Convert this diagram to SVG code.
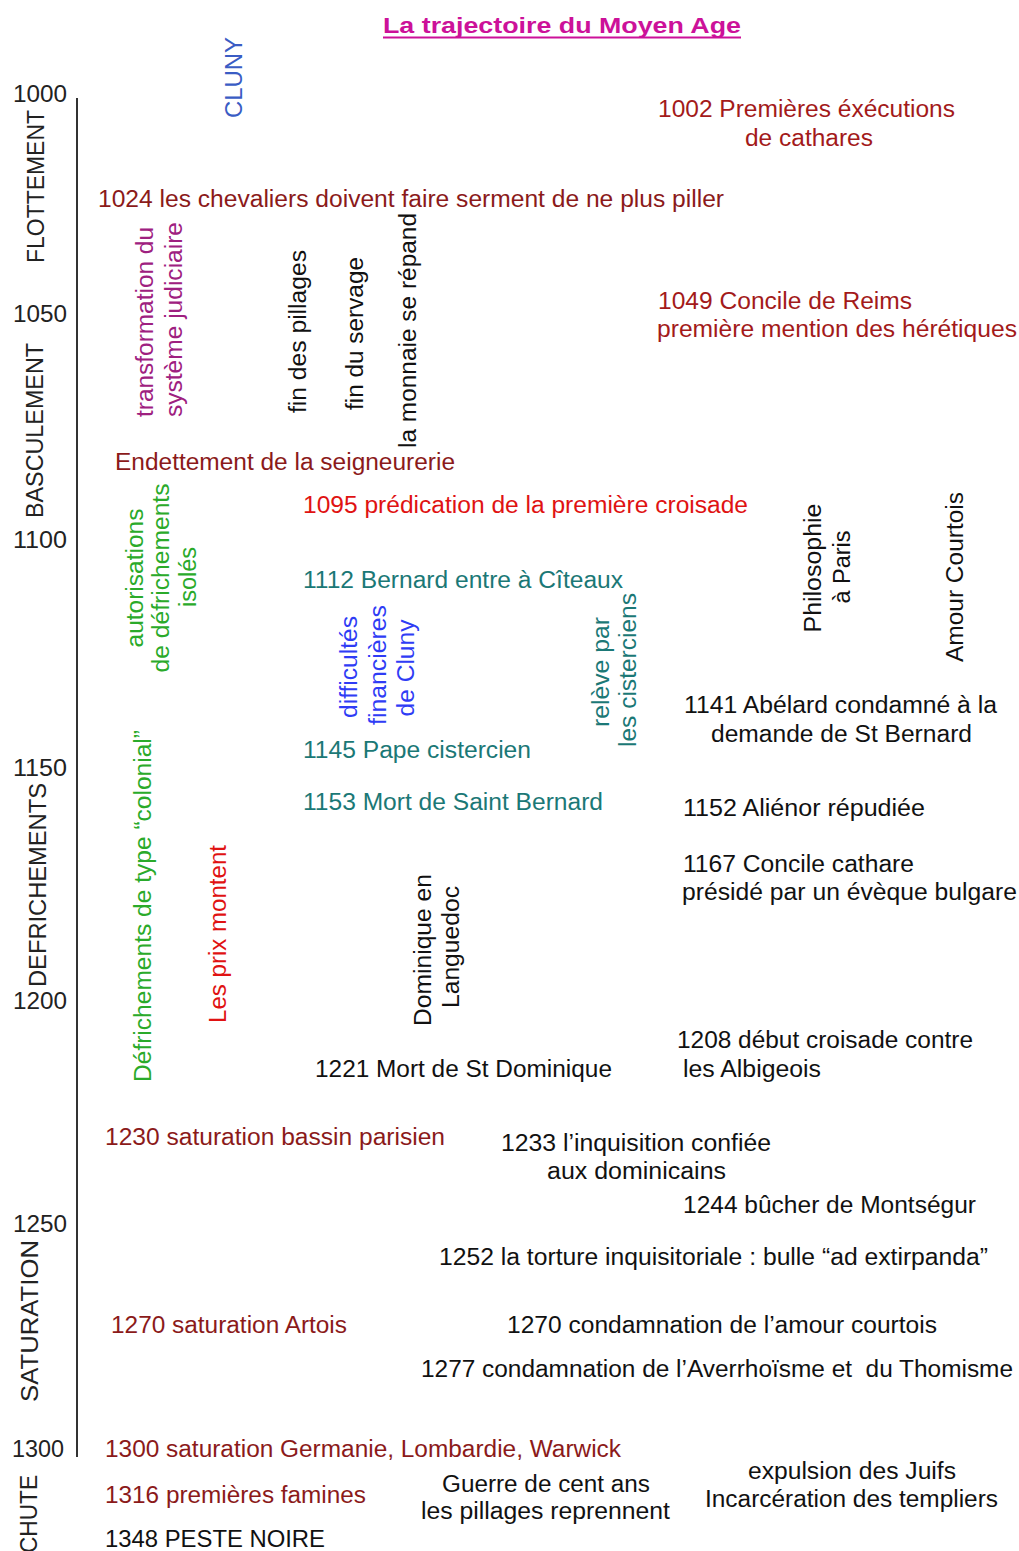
<svg xmlns="http://www.w3.org/2000/svg" width="1019" height="1551" viewBox="0 0 1019 1551">
<style>
text{font-family:"Liberation Sans",Arial,sans-serif;font-size:23px}
.k{fill:#111}
.m{fill:#8b1a1a}
.r2{fill:#a31a1a}
.r{fill:#e01212}
.t{fill:#1b7876}
.b{fill:#2f3cf5}
.cb{fill:#3a5cc4}
.g{fill:#2aaa2a}
.p{fill:#9e2080}
.ax{fill:#222}
.c{text-anchor:middle}
.title{fill:#cc1199;font-weight:bold;font-size:22px}
</style>
<rect width="1019" height="1551" fill="#fff"/>
<g id="title">
<text class="title" x="383" y="33" textLength="358" lengthAdjust="spacingAndGlyphs">La trajectoire du Moyen Age</text>
<line x1="383" y1="37.5" x2="741" y2="37.5" stroke="#cc1199" stroke-width="2"/>
</g>
<g id="connectors">
<line x1="77" y1="98" x2="77" y2="1457" stroke="#333" stroke-width="2"/>
</g>
<g id="axis-labels">
<text class="ax" x="13" y="102" textLength="54" lengthAdjust="spacingAndGlyphs">1000</text>
<text class="ax" x="13" y="322" textLength="54" lengthAdjust="spacingAndGlyphs">1050</text>
<text class="ax" x="13" y="548" textLength="54" lengthAdjust="spacingAndGlyphs">1100</text>
<text class="ax" x="13" y="776" textLength="54" lengthAdjust="spacingAndGlyphs">1150</text>
<text class="ax" x="13" y="1009" textLength="54" lengthAdjust="spacingAndGlyphs">1200</text>
<text class="ax" x="13" y="1232" textLength="54" lengthAdjust="spacingAndGlyphs">1250</text>
<text class="ax" x="12" y="1457" textLength="52" lengthAdjust="spacingAndGlyphs">1300</text>
</g>
<g id="periods">
<text class="ax" transform="translate(44 263) rotate(-90)" textLength="153" lengthAdjust="spacingAndGlyphs">FLOTTEMENT</text>
<text class="ax" transform="translate(43 518) rotate(-90)" textLength="175" lengthAdjust="spacingAndGlyphs">BASCULEMENT</text>
<text class="ax" transform="translate(46 987) rotate(-90)" textLength="204" lengthAdjust="spacingAndGlyphs">DEFRICHEMENTS</text>
<text class="ax" transform="translate(38 1402) rotate(-90)" textLength="162" lengthAdjust="spacingAndGlyphs">SATURATION</text>
<text class="ax" transform="translate(37 1553) rotate(-90)" textLength="78" lengthAdjust="spacingAndGlyphs">CHUTE</text>
</g>
<g id="cluny"><text class="cb" transform="translate(242 118) rotate(-90)" textLength="81" lengthAdjust="spacingAndGlyphs">CLUNY</text></g>
<g id="n1002">
<text class="r2" x="658" y="117" textLength="297" lengthAdjust="spacingAndGlyphs">1002 Premières éxécutions</text>
<text class="r2" x="745" y="146" textLength="128" lengthAdjust="spacingAndGlyphs">de cathares</text>
</g>
<g id="n1024"><text class="m" x="98" y="207" textLength="626" lengthAdjust="spacingAndGlyphs">1024 les chevaliers doivent faire serment de ne plus piller</text></g>
<g id="transformation">
<text class="p" transform="translate(153 417) rotate(-90)" textLength="190" lengthAdjust="spacingAndGlyphs">transformation du</text>
<text class="p" transform="translate(182 417) rotate(-90)" textLength="195" lengthAdjust="spacingAndGlyphs">système judiciaire</text>
</g>
<g id="pillages"><text class="k" transform="translate(306 413) rotate(-90)" textLength="163" lengthAdjust="spacingAndGlyphs">fin des pillages</text></g>
<g id="servage"><text class="k" transform="translate(363 410) rotate(-90)" textLength="153" lengthAdjust="spacingAndGlyphs">fin du servage</text></g>
<g id="monnaie"><text class="k" transform="translate(416 448) rotate(-90)" textLength="235" lengthAdjust="spacingAndGlyphs">la monnaie se répand</text></g>
<g id="n1049">
<text class="r2" x="658" y="309" textLength="254" lengthAdjust="spacingAndGlyphs">1049 Concile de Reims</text>
<text class="r2" x="657" y="337" textLength="360" lengthAdjust="spacingAndGlyphs">première mention des hérétiques</text>
</g>
<g id="endettement"><text class="m" x="115" y="470" textLength="340" lengthAdjust="spacingAndGlyphs">Endettement de la seigneurerie</text></g>
<g id="n1095"><text class="r" x="303" y="513" textLength="445" lengthAdjust="spacingAndGlyphs">1095 prédication de la première croisade</text></g>
<g id="autorisations">
<text class="g c" transform="translate(143 578) rotate(-90)" textLength="139" lengthAdjust="spacingAndGlyphs">autorisations</text>
<text class="g c" transform="translate(169 578) rotate(-90)" textLength="189" lengthAdjust="spacingAndGlyphs">de défrichements</text>
<text class="g c" transform="translate(196 577) rotate(-90)" textLength="60" lengthAdjust="spacingAndGlyphs">isolés</text>
</g>
<g id="n1112"><text class="t" x="303" y="588" textLength="320" lengthAdjust="spacingAndGlyphs">1112 Bernard entre à Cîteaux</text></g>
<g id="difficultes">
<text class="b c" transform="translate(357 667) rotate(-90)" textLength="102" lengthAdjust="spacingAndGlyphs">difficultés</text>
<text class="b c" transform="translate(386 665) rotate(-90)" textLength="120" lengthAdjust="spacingAndGlyphs">financières</text>
<text class="b c" transform="translate(414 668) rotate(-90)" textLength="97" lengthAdjust="spacingAndGlyphs">de Cluny</text>
</g>
<g id="releve">
<text class="t c" transform="translate(609 672) rotate(-90)" textLength="110" lengthAdjust="spacingAndGlyphs">relève par</text>
<text class="t c" transform="translate(636 670) rotate(-90)" textLength="154" lengthAdjust="spacingAndGlyphs">les cisterciens</text>
</g>
<g id="philosophie">
<text class="k c" transform="translate(821 568) rotate(-90)" textLength="129" lengthAdjust="spacingAndGlyphs">Philosophie</text>
<text class="k c" transform="translate(850 567) rotate(-90)" textLength="73" lengthAdjust="spacingAndGlyphs">à Paris</text>
</g>
<g id="amour"><text class="k" transform="translate(963 662) rotate(-90)" textLength="170" lengthAdjust="spacingAndGlyphs">Amour Courtois</text></g>
<g id="n1141">
<text class="k" x="684" y="713" textLength="313" lengthAdjust="spacingAndGlyphs">1141 Abélard condamné à la</text>
<text class="k" x="711" y="742" textLength="261" lengthAdjust="spacingAndGlyphs">demande de St Bernard</text>
</g>
<g id="n1145"><text class="t" x="303" y="758" textLength="228" lengthAdjust="spacingAndGlyphs">1145 Pape cistercien</text></g>
<g id="n1153"><text class="t" x="303" y="810" textLength="300" lengthAdjust="spacingAndGlyphs">1153 Mort de Saint Bernard</text></g>
<g id="n1152"><text class="k" x="683" y="816" textLength="242" lengthAdjust="spacingAndGlyphs">1152 Aliénor répudiée</text></g>
<g id="n1167">
<text class="k" x="683" y="872" textLength="231" lengthAdjust="spacingAndGlyphs">1167 Concile cathare</text>
<text class="k" x="682" y="900" textLength="335" lengthAdjust="spacingAndGlyphs">présidé par un évèque bulgare</text>
</g>
<g id="colonial"><text class="g" transform="translate(151 1082) rotate(-90)" textLength="352" lengthAdjust="spacingAndGlyphs">Défrichements de type “colonial”</text></g>
<g id="prix"><text class="r" transform="translate(226 1023) rotate(-90)" textLength="178" lengthAdjust="spacingAndGlyphs">Les prix montent</text></g>
<g id="dominique">
<text class="k c" transform="translate(431 950) rotate(-90)" textLength="152" lengthAdjust="spacingAndGlyphs">Dominique en</text>
<text class="k c" transform="translate(459 947) rotate(-90)" textLength="122" lengthAdjust="spacingAndGlyphs">Languedoc</text>
</g>
<g id="n1208">
<text class="k" x="677" y="1048" textLength="296" lengthAdjust="spacingAndGlyphs">1208 début croisade contre</text>
<text class="k" x="683" y="1077" textLength="138" lengthAdjust="spacingAndGlyphs">les Albigeois</text>
</g>
<g id="n1221"><text class="k" x="315" y="1077" textLength="297" lengthAdjust="spacingAndGlyphs">1221 Mort de St Dominique</text></g>
<g id="n1230"><text class="m" x="105" y="1145" textLength="340" lengthAdjust="spacingAndGlyphs">1230 saturation bassin parisien</text></g>
<g id="n1233">
<text class="k" x="501" y="1151" textLength="270" lengthAdjust="spacingAndGlyphs">1233 l’inquisition confiée</text>
<text class="k" x="547" y="1179" textLength="179" lengthAdjust="spacingAndGlyphs">aux dominicains</text>
</g>
<g id="n1244"><text class="k" x="683" y="1213" textLength="293" lengthAdjust="spacingAndGlyphs">1244 bûcher de Montségur</text></g>
<g id="n1252"><text class="k" x="439" y="1265" textLength="549" lengthAdjust="spacingAndGlyphs">1252 la torture inquisitoriale : bulle “ad extirpanda”</text></g>
<g id="n1270a"><text class="m" x="111" y="1333" textLength="236" lengthAdjust="spacingAndGlyphs">1270 saturation Artois</text></g>
<g id="n1270b"><text class="k" x="507" y="1333" textLength="430" lengthAdjust="spacingAndGlyphs">1270 condamnation de l’amour courtois</text></g>
<g id="n1277"><text class="k" x="421" y="1377" textLength="592" lengthAdjust="spacingAndGlyphs" xml:space="preserve">1277 condamnation de l’Averrhoïsme et  du Thomisme</text></g>
<g id="n1300"><text class="m" x="105" y="1457" textLength="516" lengthAdjust="spacingAndGlyphs">1300 saturation Germanie, Lombardie, Warwick</text></g>
<g id="n1316"><text class="m" x="105" y="1503" textLength="261" lengthAdjust="spacingAndGlyphs">1316 premières famines</text></g>
<g id="n1348"><text class="k" x="105" y="1547" textLength="220" lengthAdjust="spacingAndGlyphs">1348 PESTE NOIRE</text></g>
<g id="guerre">
<text class="k" x="442" y="1492" textLength="208" lengthAdjust="spacingAndGlyphs">Guerre de cent ans</text>
<text class="k" x="421" y="1519" textLength="249" lengthAdjust="spacingAndGlyphs">les pillages reprennent</text>
</g>
<g id="expulsion">
<text class="k" x="748" y="1479" textLength="208" lengthAdjust="spacingAndGlyphs">expulsion des Juifs</text>
<text class="k" x="705" y="1507" textLength="293" lengthAdjust="spacingAndGlyphs">Incarcération des templiers</text>
</g>
</svg>
